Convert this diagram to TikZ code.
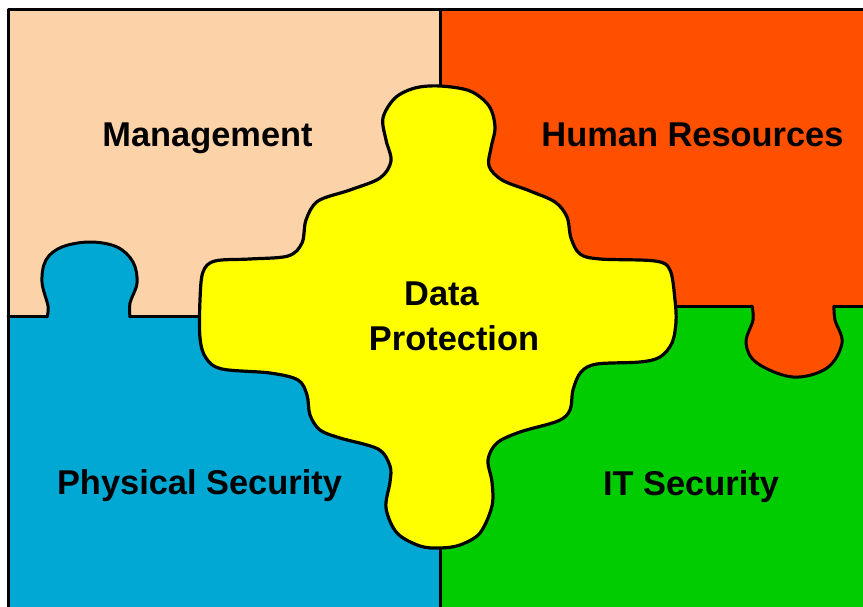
\documentclass[tikz,border=0pt]{standalone}
\usepackage{fontspec}
\setmainfont{Liberation Sans}
\definecolor{mgmtcol}{HTML}{FCD3A9}
\definecolor{hrcol}{HTML}{FF5000}
\definecolor{physcol}{HTML}{00A8D3}
\definecolor{itcol}{HTML}{00CC00}
\definecolor{datacol}{HTML}{FFFF00}
\tikzset{
  edge/.style={line width=3pt, line join=round, line cap=round},
  lbl/.style={font=\fontsize{34.4}{41}\selectfont\bfseries, inner sep=0pt, anchor=base}
}
\begin{document}
\begin{tikzpicture}[x=1pt, y=-1pt]
\useasboundingbox (0,0) rectangle (863,607);

% quadrant fills
\fill[mgmtcol] (8,10) rectangle (440,316);
\fill[hrcol]   (440,10) rectangle (863,306);
\fill[physcol] (8,316) rectangle (440,607);
\fill[itcol]   (440,306) rectangle (863,607);

% tab of the physical security piece
\fill[physcol] plot[smooth, tension=0.6] coordinates {(47,317) (48,306) (42,282) (46,260) (62,247) (90,242) (117,247) (133,262) (137,283) (130,303) (130,317)} -- cycle;
\draw[edge] plot[smooth, tension=0.6] coordinates {(47,317) (48,306) (42,282) (46,260) (62,247) (90,242) (117,247) (133,262) (137,283) (130,303) (130,317)};

% tab of the human resources piece
\fill[hrcol] plot[smooth, tension=0.6] coordinates {(752,305) (753,320) (746,343) (757,363) (793,377) (827,368) (842,343) (835,320) (834,305)} -- cycle;
\draw[edge] plot[smooth, tension=0.6] coordinates {(752,306) (753,320) (746,343) (757,363) (793,377) (827,368) (842,343) (835,320) (834,306)};

% frame and piece borders
\draw[edge] (8,607) -- (8,10) -- (863,10);
\draw[edge] (440,10) -- (440,607);
\draw[edge] (8,316) -- (47,316);
\draw[edge] (130,316) -- (215,316);
\draw[edge] (660,306) -- (752,306);
\draw[edge] (834,306) -- (863,306);

% central data protection piece
\filldraw[datacol, draw=black, line width=3.2pt, line join=round]
  plot[smooth cycle, tension=0.55] coordinates {
    (440,86) (470,91) (489,106) (495,127) (491,148) (489,166)
    (502,180) (530,191) (555,202) (567,217) (571,238) (580,254)
    (600,259) (655,261) (670,270) (675,300) (676,322) (672,343)
    (660,357) (640,362) (597,364) (581,372) (573,390) (570,410)
    (558,421) (520,432) (497,443) (488,460) (492,482) (492,506)
    (480,533) (460,545) (440,548) (420,546) (397,533) (386,508)
    (390,482) (390,466) (378,449) (340,438) (320,430) (310,415)
    (307,395) (298,380) (270,373) (222,369) (206,358) (200,338)
    (200,300) (203,272) (215,261) (250,259) (288,256) (302,243)
    (306,220) (318,201) (350,190) (380,178) (391,161) (386,140)
    (383,118) (395,98) (415,88)
  };

% labels
\node[lbl] (mgmt) at (207.5,147) {Management};
\node[lbl] (hr)   at (692.5,147) {Human Resources};
\node[lbl] (dpa)  at (441.5,305) {Data};
\node[lbl] (dpb)  at (454,350) {Protection};
\node[lbl] (phys) at (199.5,494) {Physical Security};
\node[lbl] (it)   at (691,495) {IT Security};
\end{tikzpicture}
\end{document}
